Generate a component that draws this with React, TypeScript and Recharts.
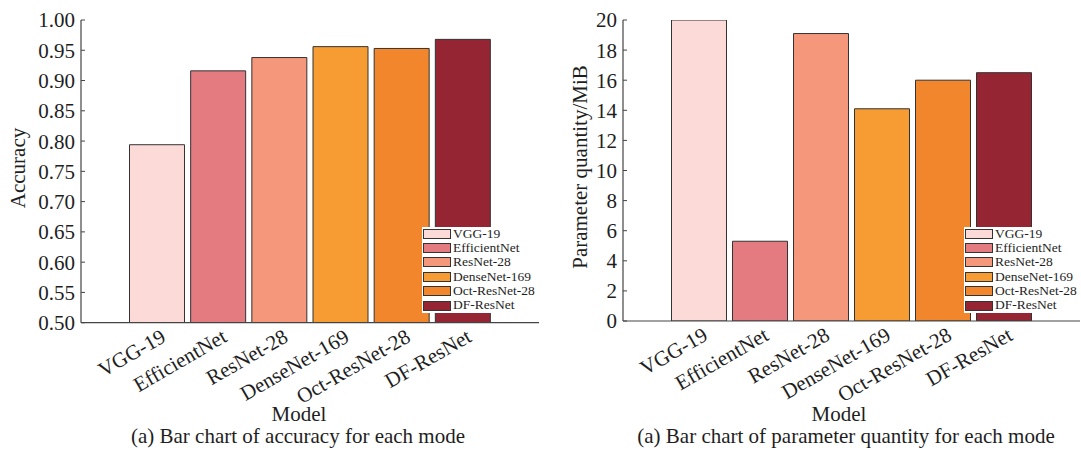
import React from 'react';
import { BarChart, Bar, XAxis, YAxis, Legend } from 'recharts';

const models = ['VGG-19', 'EfficientNet', 'ResNet-28', 'DenseNet-169', 'Oct-ResNet-28', 'DF-ResNet'];
const colors = ['#FCDAD8', '#E37B81', '#F4977A', '#F79C33', '#F1862D', '#962534'];
const accuracy = [0.794, 0.916, 0.938, 0.956, 0.953, 0.968];
const paramsMiB = [20, 5.3, 19.1, 14.1, 16.0, 16.5];
const accuracyTicks = [0.5, 0.55, 0.6, 0.65, 0.7, 0.75, 0.8, 0.85, 0.9, 0.95, 1.0];
const paramTicks = [0, 2, 4, 6, 8, 10, 12, 14, 16, 18, 20];

const FONT = "'Liberation Serif', 'Times New Roman', serif";
const AX = '#444';
const TXT = '#1e1e1e';

const buildRows = (values: number[]) =>
  models.map((m, i) => ({ model: m, [m]: values[i] }));

const XTick = (props: any) => {
  const { x, y, payload } = props;
  const ax = x + 10;
  return (
    <text x={ax} y={y} textAnchor="end" transform={`rotate(-30 ${ax} ${y})`} fontSize={21} fontFamily={FONT} fill={TXT}>
      {payload.value}
    </text>
  );
};

const LegendBox = () => (
  <div style={{ background: '#fff', width: '100%', height: '100%', fontFamily: FONT, fontSize: '13.5px' }}>
    {models.map((m, i) => (
      <div key={m} style={{ display: 'flex', alignItems: 'center', height: 14.4 }}>
        <span style={{ display: 'inline-block', width: 28, height: 10, boxSizing: 'border-box', border: '1px solid #333', background: colors[i], marginLeft: 1, flex: 'none' }} />
        <span style={{ marginLeft: 2, fontSize: '13.5px', fontFamily: FONT, color: TXT, lineHeight: '14.4px', whiteSpace: 'nowrap' }}>{m}</span>
      </div>
    ))}
  </div>
);

type PanelProps = {
  left: number;
  width: number;
  yAxisWidth: number;
  marginRight: number;
  marginBottom: number;
  values: number[];
  domain: [number, number];
  ticks: number[];
  fmt: (v: number) => string;
};

const Panel = ({ left, width, yAxisWidth, marginRight, marginBottom, values, domain, ticks, fmt }: PanelProps) => {
  const data = buildRows(values);
  const plotRight = width - marginRight;
  const legendLeft = yAxisWidth + 341;
  return (
    <div style={{ position: 'absolute', left, top: 0, width, height: 452 }}>
      <BarChart width={width} height={452} data={data} margin={{ top: 20, right: marginRight, left: 0, bottom: marginBottom }} barSize={55}>
        <XAxis
          xAxisId="b"
          dataKey="model"
          padding={{ left: 45.5, right: 45.5 }}
          height={100}
          interval={0}
          tickLine={false}
          tickSize={0}
          tickMargin={18}
          axisLine={{ stroke: AX, strokeWidth: 1.2 }}
          tick={(p: any) => <XTick {...p} />}
        />
        <XAxis
          xAxisId="t"
          dataKey="model"
          orientation="top"
          height={0}
          padding={{ left: 45.5, right: 45.5 }}
          interval={0}
          tick={false}
          tickSize={-4}
          tickLine={{ stroke: AX }}
          axisLine={{ stroke: AX, strokeWidth: 1.2 }}
        />
        <YAxis
          yAxisId="l"
          type="number"
          width={yAxisWidth}
          domain={domain}
          ticks={ticks}
          allowDataOverflow
          interval={0}
          tickFormatter={fmt}
          tickSize={-4}
          tickMargin={10}
          tickLine={{ stroke: AX }}
          axisLine={{ stroke: AX, strokeWidth: 1.2 }}
          tick={{ fill: TXT, fontSize: 21, fontFamily: FONT }}
        />
        <YAxis
          yAxisId="r"
          type="number"
          orientation="right"
          width={0}
          domain={domain}
          ticks={ticks}
          allowDataOverflow
          interval={0}
          tick={false}
          tickSize={-4}
          tickLine={{ stroke: AX }}
          axisLine={{ stroke: AX, strokeWidth: 1.2 }}
        />
        {models.map((m, i) => (
          <Bar
            key={m}
            dataKey={m}
            name={m}
            stackId="s"
            xAxisId="b"
            yAxisId="l"
            fill={colors[i]}
            stroke="#333"
            strokeWidth={1}
            isAnimationActive={false}
          />
        ))}
        <Legend
          layout="vertical"
          align="center"
          verticalAlign="middle"
          content={() => <LegendBox />}
          wrapperStyle={{ left: legendLeft, top: 226.5, width: plotRight - legendLeft - 4, height: 86.4, margin: 0, padding: 0 }}
        />
      </BarChart>
    </div>
  );
};

export default function App() {
  return (
    <div style={{ position: 'absolute', left: 0, top: 0, width: 1081, height: 452, background: '#fff', overflow: 'hidden' }}>
      <Panel
        left={0}
        width={545}
        yAxisWidth={81}
        marginRight={6}
        marginBottom={29.3}
        values={accuracy}
        domain={[0.5, 1.0]}
        ticks={accuracyTicks}
        fmt={(v: number) => v.toFixed(2)}
      />
      <Panel
        left={540}
        width={541}
        yAxisWidth={83}
        marginRight={1}
        marginBottom={31}
        values={paramsMiB}
        domain={[0, 20]}
        ticks={paramTicks}
        fmt={(v: number) => String(v)}
      />
      <svg width={1081} height={452} style={{ position: 'absolute', left: 0, top: 0, pointerEvents: 'none' }}>
        <g fontFamily={FONT} fontSize={21} fill={TXT}>
          <text x={25} y={168} textAnchor="middle" transform="rotate(-90 25 168)">Accuracy</text>
          <text x={587} y={167} textAnchor="middle" transform="rotate(-90 587 167)">Parameter quantity/MiB</text>
          <text x={299} y={421} textAnchor="middle">Model</text>
          <text x={839} y={421} textAnchor="middle">Model</text>
          <text x={298} y={443} textAnchor="middle">(a) Bar chart of accuracy for each mode</text>
          <text x={846} y={443} textAnchor="middle">(a) Bar chart of parameter quantity for each mode</text>
        </g>
      </svg>
    </div>
  );
}
